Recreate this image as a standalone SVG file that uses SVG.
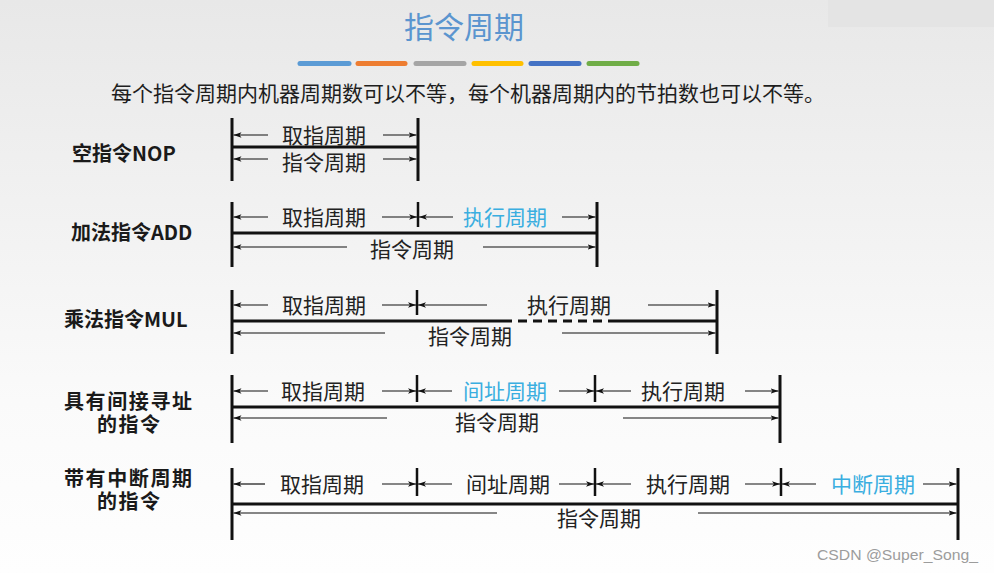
<svg xmlns="http://www.w3.org/2000/svg" width="994" height="573" viewBox="0 0 994 573">
<defs>
<linearGradient id="bg" x1="0" y1="0" x2="0" y2="1">
<stop offset="0" stop-color="#e8e8e8"/>
<stop offset="0.35" stop-color="#f1f1f1"/>
<stop offset="0.7" stop-color="#fafafa"/>
<stop offset="1" stop-color="#fefefe"/>
</linearGradient>
<marker id="ah" markerUnits="userSpaceOnUse" markerWidth="9" markerHeight="7" refX="8" refY="3.5" orient="auto">
<path d="M0,0.8 L8,3.5 L0,6.2 L2,3.5 z" fill="#111"/>
</marker>
<style>
.bar{stroke:#111;stroke-width:3;fill:none}
.tick{stroke:#111;stroke-width:2.5;fill:none}
.arr{stroke:#111;stroke-width:1.2;fill:none;marker-end:url(#ah)}
.t{font-family:"Noto Sans CJK SC","Noto Sans",sans-serif;font-size:21px;fill:#222;text-anchor:middle}
.blue{fill:#3aaee0}
.lab{font-family:"Noto Sans CJK SC","Noto Sans",sans-serif;font-size:20px;font-weight:bold;fill:#1a1a1a}
</style>
</defs>
<rect width="994" height="573" fill="url(#bg)"/>
<rect x="828" y="0" width="166" height="27" fill="#e4e4e4"/>

<g id="header">
<text x="464" y="38" font-family="'Noto Sans CJK SC','Noto Sans',sans-serif" font-size="30" fill="#5b95cf" text-anchor="middle">指令周期</text>
<g stroke-width="5" stroke-linecap="round">
<line x1="300" y1="63.5" x2="349" y2="63.5" stroke="#5b9bd5"/>
<line x1="358" y1="63.5" x2="405" y2="63.5" stroke="#ed7d31"/>
<line x1="416" y1="63.5" x2="464" y2="63.5" stroke="#a5a5a5"/>
<line x1="474" y1="63.5" x2="521" y2="63.5" stroke="#ffc000"/>
<line x1="531" y1="63.5" x2="579" y2="63.5" stroke="#4472c4"/>
<line x1="589" y1="63.5" x2="637" y2="63.5" stroke="#70ad47"/>
</g>
<text x="111" y="101" font-family="'Noto Sans CJK SC','Noto Sans',sans-serif" font-size="21" fill="#1e1e1e">每个指令周期内机器周期数可以不等，每个机器周期内的节拍数也可以不等。</text>
</g>

<g id="row-nop">
<text class="lab" x="72" y="161">空指令NOP</text>
<line class="bar" x1="232" y1="118" x2="232" y2="181"/>
<line class="bar" x1="418" y1="118" x2="418" y2="181"/>
<line class="bar" x1="232" y1="147" x2="418" y2="147"/>
<text class="t" x="324" y="143">取指周期</text>
<text class="t" x="324" y="170">指令周期</text>
</g>

<g id="row-add">
<text class="lab" x="71" y="240">加法指令ADD</text>
<line class="bar" x1="232" y1="202" x2="232" y2="267"/>
<line class="bar" x1="597" y1="202" x2="597" y2="267"/>
<line class="tick" x1="418" y1="202" x2="418" y2="227"/>
<line class="bar" x1="232" y1="233" x2="597" y2="233"/>
<text class="t" x="324" y="225">取指周期</text>
<text class="t blue" x="505" y="225">执行周期</text>
<text class="t" x="412" y="257">指令周期</text>
</g>

<g id="row-mul">
<text class="lab" x="64" y="327">乘法指令MUL</text>
<line class="bar" x1="232" y1="290" x2="232" y2="354"/>
<line class="bar" x1="717" y1="290" x2="717" y2="354"/>
<line class="tick" x1="417" y1="290" x2="417" y2="315"/>
<line class="bar" x1="232" y1="321" x2="503" y2="321"/>
<line class="bar" x1="503" y1="321" x2="613" y2="321" stroke-dasharray="9 6"/>
<line class="bar" x1="613" y1="321" x2="717" y2="321"/>
<text class="t" x="324" y="313">取指周期</text>
<text class="t" x="569" y="313">执行周期</text>
<text class="t" x="470" y="344">指令周期</text>
</g>

<g id="row-indirect">
<text class="lab" x="64" y="409" textLength="128" lengthAdjust="spacing">具有间接寻址</text>
<text class="lab" x="97" y="432" textLength="63" lengthAdjust="spacing">的指令</text>
<line class="bar" x1="232" y1="375" x2="232" y2="443"/>
<line class="bar" x1="780" y1="375" x2="780" y2="443"/>
<line class="tick" x1="417" y1="375" x2="417" y2="402"/>
<line class="tick" x1="595" y1="375" x2="595" y2="402"/>
<line class="bar" x1="232" y1="407" x2="780" y2="407"/>
<text class="t" x="323" y="399">取指周期</text>
<text class="t blue" x="505" y="399">间址周期</text>
<text class="t" x="683" y="399">执行周期</text>
<text class="t" x="497" y="430">指令周期</text>
</g>

<g id="row-interrupt">
<text class="lab" x="64" y="486" textLength="128" lengthAdjust="spacing">带有中断周期</text>
<text class="lab" x="97" y="509" textLength="63" lengthAdjust="spacing">的指令</text>
<line class="bar" x1="232" y1="468" x2="232" y2="540"/>
<line class="bar" x1="958" y1="468" x2="958" y2="540"/>
<line class="tick" x1="417" y1="468" x2="417" y2="496"/>
<line class="tick" x1="595" y1="468" x2="595" y2="496"/>
<line class="tick" x1="781" y1="468" x2="781" y2="496"/>
<line class="bar" x1="232" y1="504" x2="958" y2="504"/>
<text class="t" x="322" y="492">取指周期</text>
<text class="t" x="508" y="492">间址周期</text>
<text class="t" x="688" y="492">执行周期</text>
<text class="t blue" x="873" y="492">中断周期</text>
<text class="t" x="599" y="526">指令周期</text>
</g>

<g id="connectors">
<!-- NOP -->
<line class="arr" x1="268" y1="135" x2="233.5" y2="135"/>
<line class="arr" x1="383" y1="135" x2="416.5" y2="135"/>
<line class="arr" x1="268" y1="159" x2="233.5" y2="159"/>
<line class="arr" x1="383" y1="159" x2="416.5" y2="159"/>
<!-- ADD -->
<line class="arr" x1="268" y1="217" x2="233.5" y2="217"/>
<line class="arr" x1="382" y1="217" x2="417" y2="217"/>
<line class="arr" x1="453" y1="217" x2="419" y2="217"/>
<line class="arr" x1="562" y1="217" x2="595.5" y2="217"/>
<line class="arr" x1="347" y1="247" x2="233.5" y2="247"/>
<line class="arr" x1="483" y1="247" x2="595.5" y2="247"/>
<!-- MUL -->
<line class="arr" x1="268" y1="305" x2="233.5" y2="305"/>
<line class="arr" x1="382" y1="305" x2="416" y2="305"/>
<line class="arr" x1="487" y1="305" x2="418" y2="305"/>
<line class="arr" x1="648" y1="305" x2="715.5" y2="305"/>
<line class="arr" x1="385" y1="333" x2="233.5" y2="333"/>
<line class="arr" x1="562" y1="333" x2="715.5" y2="333"/>
<!-- Indirect -->
<line class="arr" x1="268" y1="391" x2="233.5" y2="391"/>
<line class="arr" x1="382" y1="391" x2="416" y2="391"/>
<line class="arr" x1="452" y1="391" x2="418" y2="391"/>
<line class="arr" x1="559" y1="391" x2="594" y2="391"/>
<line class="arr" x1="631" y1="391" x2="596" y2="391"/>
<line class="arr" x1="745" y1="391" x2="778.5" y2="391"/>
<line class="arr" x1="387" y1="418" x2="233.5" y2="418"/>
<line class="arr" x1="623" y1="418" x2="778.5" y2="418"/>
<!-- Interrupt -->
<line class="arr" x1="265" y1="484" x2="233.5" y2="484"/>
<line class="arr" x1="382" y1="484" x2="416" y2="484"/>
<line class="arr" x1="452" y1="484" x2="418" y2="484"/>
<line class="arr" x1="559" y1="484" x2="594" y2="484"/>
<line class="arr" x1="631" y1="484" x2="596" y2="484"/>
<line class="arr" x1="745" y1="484" x2="780" y2="484"/>
<line class="arr" x1="816" y1="484" x2="782" y2="484"/>
<line class="arr" x1="923" y1="484" x2="956.5" y2="484"/>
<line class="arr" x1="497" y1="513" x2="233.5" y2="513"/>
<line class="arr" x1="698" y1="513" x2="956.5" y2="513"/>
</g>

<text x="817" y="560" font-family="'Liberation Sans',sans-serif" font-size="15" fill="#9c9c9c" textLength="161" lengthAdjust="spacingAndGlyphs">CSDN @Super_Song_</text>
</svg>
